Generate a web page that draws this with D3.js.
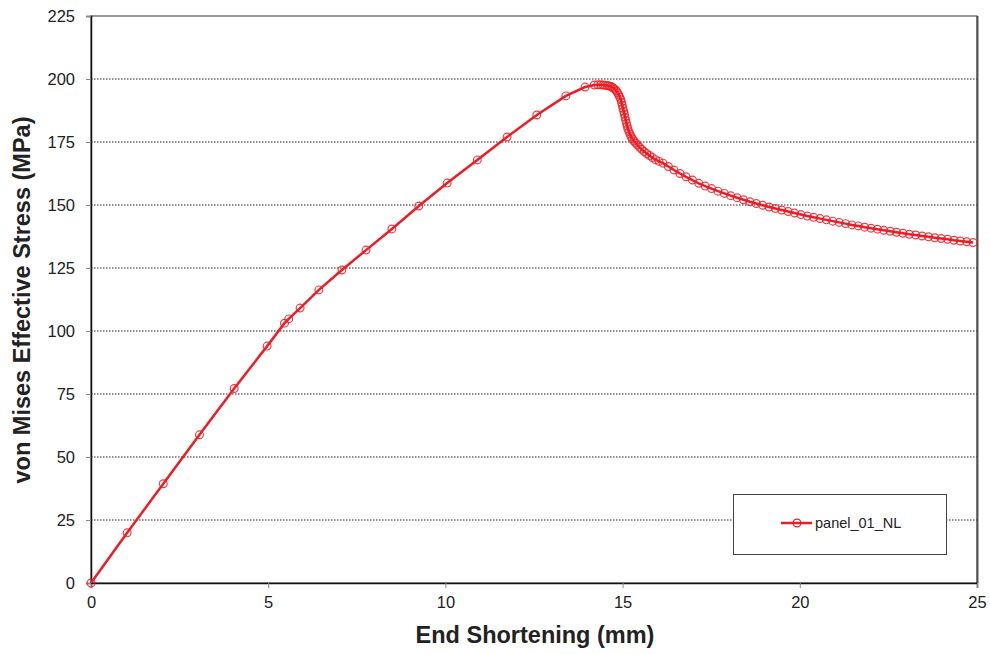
<!DOCTYPE html>
<html><head><meta charset="utf-8">
<script src="https://cdn.jsdelivr.net/npm/d3@7/dist/d3.min.js"></script>
<style>body{margin:0;background:#fff;}svg{display:block;font-family:"Liberation Sans",Arial,sans-serif;}</style>
</head><body>
<svg id="c" width="990" height="654"></svg>
<script>
const xTicks = [0, 5, 10, 15, 20, 25];
const yTicks = [0, 25, 50, 75, 100, 125, 150, 175, 200, 225];
const seriesName = "panel_01_NL";
const shortening = [0,1.02,2.04,3.06,4.04,4.97,5.46,5.58,5.90,6.43,7.08,7.76,8.49,9.25,10.05,10.90,11.74,12.58,13.40,13.94,14.20,
14.30,14.38,14.45,14.51,14.57,14.62,14.67,14.71,14.75,14.79,14.83,14.86,14.89,14.92,14.95,14.97,14.99,15.01,15.03,15.05,15.07,15.09,15.11,15.13,15.15,15.18,15.21,15.24,15.28,15.32,15.37,15.42,15.48,15.54,15.61,15.68,15.76,15.84,15.93,16.03,16.14,
16.29,16.45,16.62,16.79,16.97,17.15,17.33,17.51,17.69,17.87,18.05,18.23,18.41,18.59,18.77,18.95,19.13,19.31,19.49,19.67,19.85,20.03,20.21,20.39,20.57,20.75,20.93,21.11,21.29,21.47,21.65,21.83,22.01,22.19,22.37,22.55,22.73,22.91,23.09,23.27,23.45,23.63,23.81,23.99,24.17,24.35,24.53,24.71,24.89];
const stress = [0,19.9,39.4,58.8,77.2,94.0,103.1,104.8,109.1,116.3,124.2,132.1,140.5,149.6,158.7,167.9,177.0,185.7,193.3,196.8,197.6,
197.7,197.7,197.6,197.5,197.4,197.2,197.0,196.7,196.3,195.8,195.2,194.5,193.7,192.8,191.8,190.7,189.6,188.4,187.2,186.0,184.8,183.6,182.4,181.3,180.2,179.1,178.1,177.1,176.2,175.4,174.6,173.8,172.9,172.1,171.2,170.4,169.6,168.8,168.0,167.3,166.6,
165.3,163.9,162.5,161.2,159.9,158.6,157.5,156.5,155.5,154.6,153.7,152.9,152.1,151.3,150.6,149.9,149.2,148.6,148.0,147.4,146.8,146.2,145.6,145.1,144.6,144.1,143.6,143.1,142.6,142.1,141.7,141.2,140.8,140.4,140.0,139.6,139.2,138.8,138.4,138.1,137.7,137.4,137.0,136.7,136.4,136.0,135.7,135.4,135.1];

const svg = d3.select("#c");
const m = {l: 91, r: 977, t: 16, b: 583};
const x = d3.scaleLinear().domain([0, 25]).range([m.l, m.r]);
const y = d3.scaleLinear().domain([0, 225]).range([m.b, m.t]);
const red = "#ee1c24";

// grid
svg.append("g").selectAll("line").data(yTicks.filter(d => d > 0 && d < 225)).join("line")
  .attr("x1", m.l).attr("x2", m.r).attr("y1", d => y(d)).attr("y2", d => y(d))
  .attr("stroke", "#222").attr("stroke-width", 1).attr("stroke-dasharray", "1.5,1.5");

// border
svg.append("rect").attr("x", m.l).attr("y", m.t).attr("width", m.r - m.l).attr("height", m.b - m.t)
  .attr("fill", "none").attr("stroke", "#333").attr("stroke-width", 1);
svg.append("line").attr("x1", m.r + 0.5).attr("x2", m.r + 0.5).attr("y1", m.t).attr("y2", m.b)
  .attr("stroke", "#555").attr("stroke-width", 2);

// axes
const xa = svg.append("g").attr("transform", `translate(0,${m.b})`)
  .call(d3.axisBottom(x).tickValues(xTicks).tickSize(5).tickPadding(8).tickFormat(d3.format("d")));
const ya = svg.append("g").attr("transform", `translate(${m.l},0)`)
  .call(d3.axisLeft(y).tickValues(yTicks).tickSize(5).tickPadding(11).tickFormat(d3.format("d")));
[xa, ya].forEach(a => {
  a.select(".domain").attr("stroke", "#111").attr("stroke-width", 1.5);
  a.selectAll(".tick line").attr("stroke", "#888");
  a.selectAll(".tick text").attr("font-size", 16.5).attr("fill", "#222")
    .attr("font-family", '"Liberation Sans",Arial,sans-serif');
});

// titles
svg.append("text").attr("x", 535).attr("y", 643).attr("text-anchor", "middle")
  .attr("font-size", 23.5).attr("font-weight", "bold").attr("fill", "#222").text("End Shortening (mm)");
svg.append("text").attr("transform", `translate(30,${300}) rotate(-90)`).attr("text-anchor", "middle")
  .attr("font-size", 23.5).attr("font-weight", "bold").attr("fill", "#222").text("von Mises Effective Stress (MPa)");

// series
const pts = shortening.map((d, i) => [d, stress[i]]);
svg.append("path").datum(pts).attr("fill", "none").attr("stroke", red).attr("stroke-width", 2.5)
  .attr("d", d3.line().x(d => x(d[0])).y(d => y(d[1])));
svg.append("g").selectAll("circle").data(pts).join("circle")
  .attr("cx", d => x(d[0])).attr("cy", d => y(d[1])).attr("r", 3.9)
  .attr("fill", "none").attr("stroke", red).attr("stroke-opacity", 0.85).attr("stroke-width", 1.2);

// legend
const lg = svg.append("g");
lg.append("rect").attr("x", 733.5).attr("y", 494.5).attr("width", 213).attr("height", 60)
  .attr("fill", "#fff").attr("stroke", "#444").attr("stroke-width", 1);
lg.append("line").attr("x1", 781).attr("x2", 812).attr("y1", 523).attr("y2", 523).attr("stroke", red).attr("stroke-width", 2.5);
lg.append("circle").attr("cx", 797).attr("cy", 523).attr("r", 3.9).attr("fill", "none").attr("stroke", red).attr("stroke-width", 1.2);
lg.append("text").attr("x", 815).attr("y", 528).attr("font-size", 14.5).attr("fill", "#222").text(seriesName);
</script>
</body></html>
